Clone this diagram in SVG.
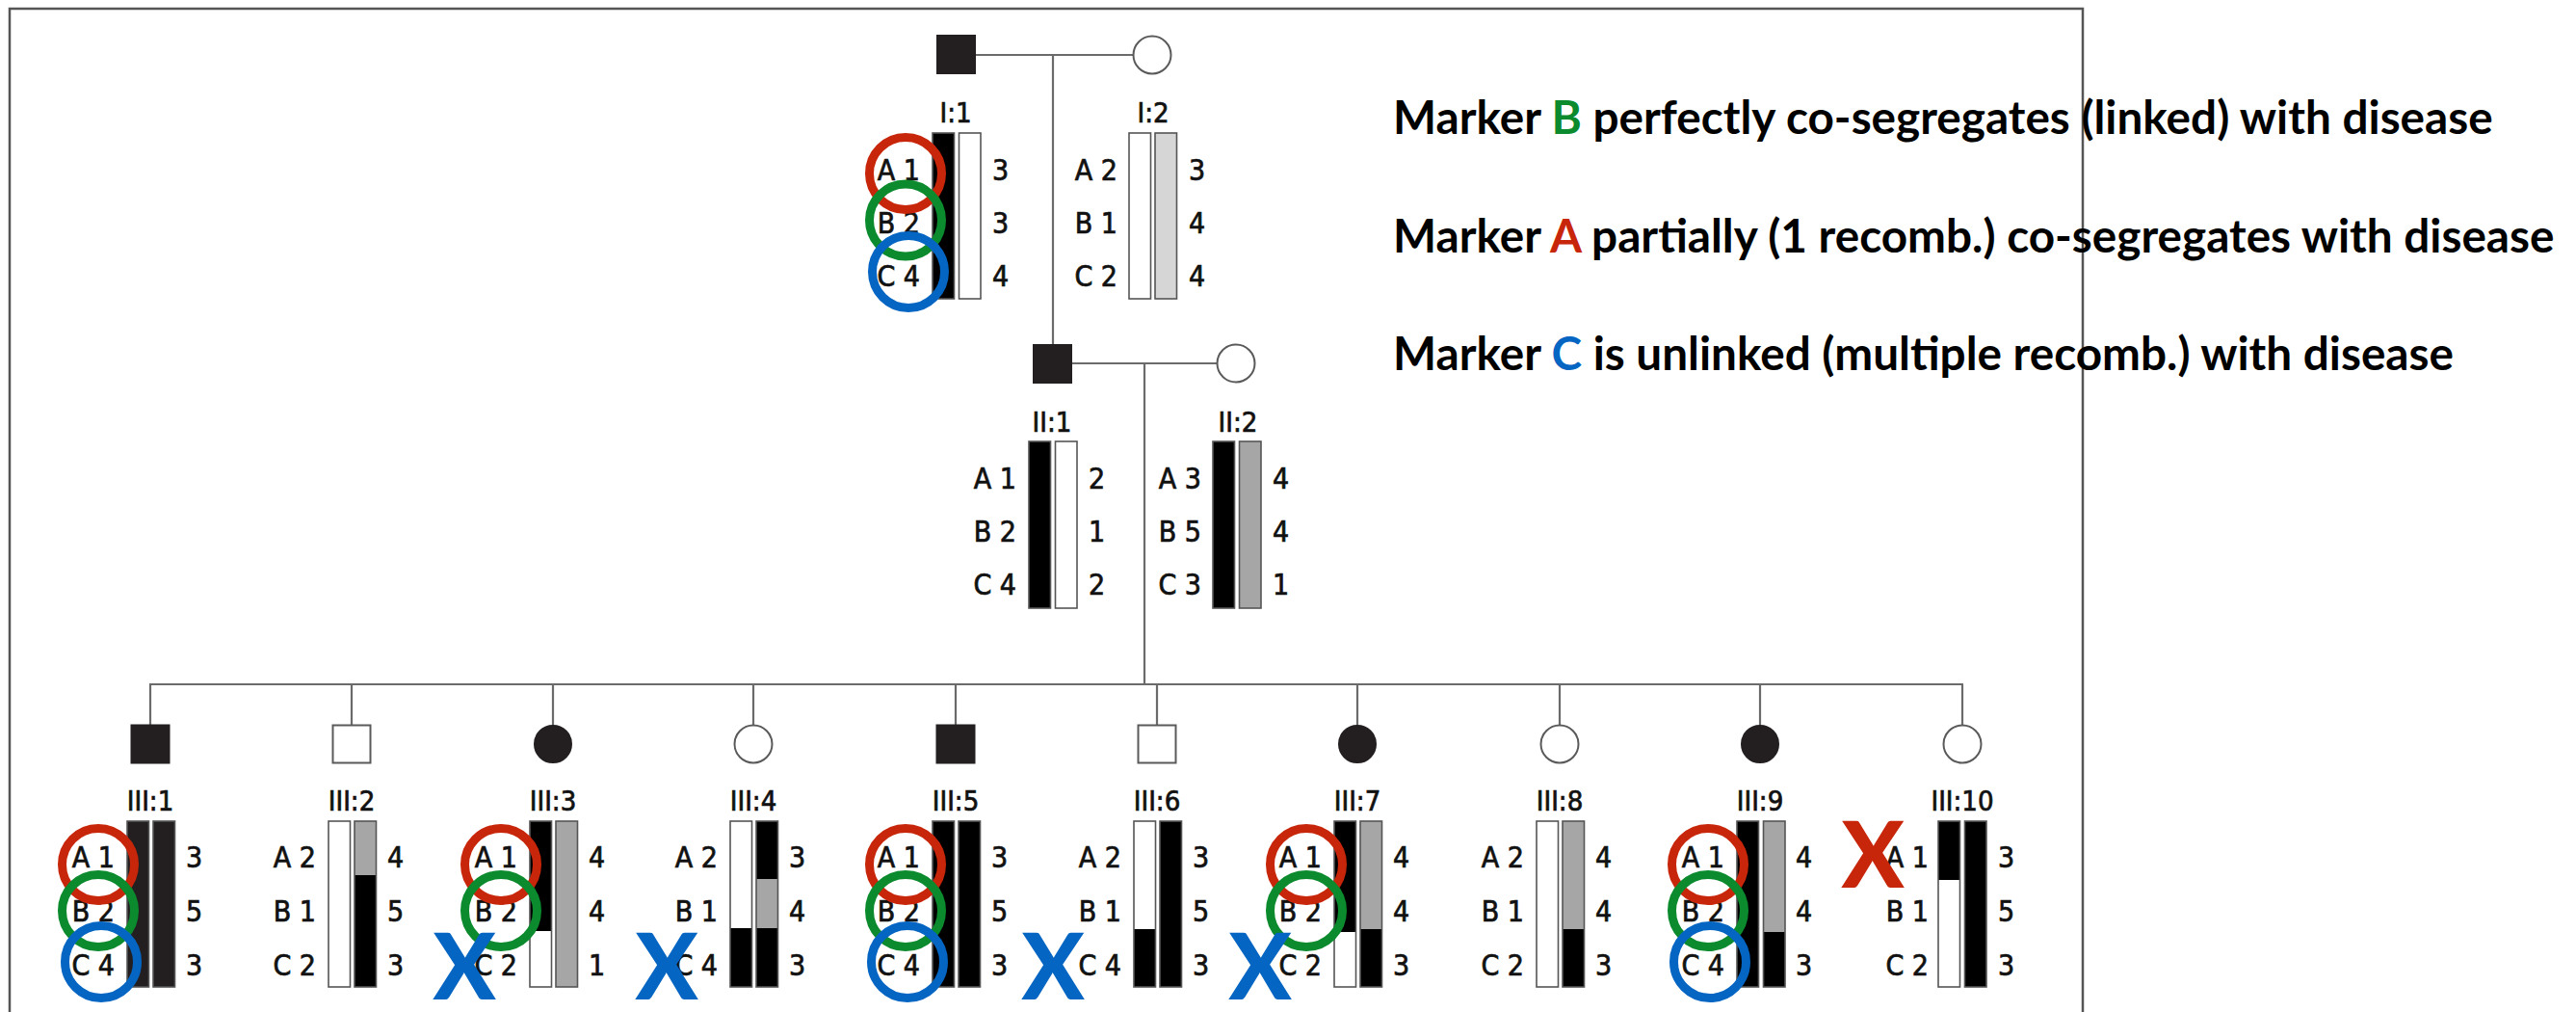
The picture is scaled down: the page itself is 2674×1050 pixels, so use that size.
<svg xmlns="http://www.w3.org/2000/svg" width="2674" height="1050" viewBox="0 0 2674 1050">
<style>
.ln{stroke:#6b6b6b;stroke-width:2.2;fill:none}
.frame{stroke:#555;stroke-width:2.5;fill:none}
.aff{fill:#231f20;stroke:#231f20;stroke-width:2}
.un{fill:#fff;stroke:#5a5a5a;stroke-width:2}
.bk{fill:#000}
.dk{fill:#231f20}
.wt{fill:#fff}
.gy{fill:#a6a6a6}
.lg{fill:#d6d6d6}
.ol{fill:none;stroke:#555;stroke-width:1.6}
.lab{font-family:"Liberation Sans Narrow","DejaVu Sans Condensed","Liberation Sans",sans-serif;font-size:30px;fill:#111;stroke:#111;stroke-width:0.7}
.l{text-anchor:end}
.gid{text-anchor:middle;font-size:29px}
.ring{fill:none;stroke-width:9}
.r{stroke:#c8260a}
.g{stroke:#0c8a2e}
.b{stroke:#0565c2}
.x{font-family:Lato,"Liberation Sans",sans-serif;font-weight:900;font-size:96px;text-anchor:middle}
.xr{fill:#c8260a}
.xb{fill:#0565c2}
.note{font-family:Lato,"Liberation Sans",sans-serif;font-weight:bold;font-size:47.7px;fill:#000}
</style>
<rect width="2674" height="1050" fill="#fff"/>
<path class="frame" d="M10,1050 V9 H2162 V1050"/>

<g id="connectors">
<line class="ln" x1="1012" y1="57" x2="1176" y2="57"/>
<line class="ln" x1="1093" y1="57" x2="1093" y2="358"/>
<line class="ln" x1="1112" y1="377" x2="1264" y2="377"/>
<line class="ln" x1="1188" y1="377" x2="1188" y2="710"/>
<line class="ln" x1="155" y1="710" x2="2038" y2="710"/>
<line class="ln" x1="156" y1="710" x2="156" y2="752"/>
<line class="ln" x1="365" y1="710" x2="365" y2="752"/>
<line class="ln" x1="574" y1="710" x2="574" y2="752"/>
<line class="ln" x1="782" y1="710" x2="782" y2="752"/>
<line class="ln" x1="992" y1="710" x2="992" y2="752"/>
<line class="ln" x1="1201" y1="710" x2="1201" y2="752"/>
<line class="ln" x1="1409" y1="710" x2="1409" y2="752"/>
<line class="ln" x1="1619" y1="710" x2="1619" y2="752"/>
<line class="ln" x1="1827" y1="710" x2="1827" y2="752"/>
<line class="ln" x1="2037" y1="710" x2="2037" y2="752"/>
</g>

<g id="I1">
<rect class="aff" x="973" y="37" width="39" height="39"/>
<text class="lab gid" x="992" y="127">I:1</text>
<rect class="bk" x="968" y="138" width="22.5" height="172"/><rect class="ol" x="968" y="138" width="22.5" height="172"/>
<rect class="wt" x="995.5" y="138" width="22.5" height="172"/><rect class="ol" x="995.5" y="138" width="22.5" height="172"/>
<text class="lab l" x="955" y="187">A 1</text><text class="lab l" x="955" y="242">B 2</text><text class="lab l" x="955" y="297">C 4</text>
<text class="lab" x="1030" y="187">3</text><text class="lab" x="1030" y="242">3</text><text class="lab" x="1030" y="297">4</text>
<circle class="ring r" cx="940" cy="180" r="37.5"/>
<circle class="ring g" cx="940" cy="228.5" r="37.5"/>
<circle class="ring b" cx="943" cy="282" r="37.5"/>
</g>

<g id="I2">
<circle class="un" cx="1196" cy="57" r="19.5"/>
<text class="lab gid" x="1197" y="127">I:2</text>
<rect class="wt" x="1172" y="138" width="22.5" height="172"/><rect class="ol" x="1172" y="138" width="22.5" height="172"/>
<rect class="lg" x="1199" y="138" width="22.5" height="172"/><rect class="ol" x="1199" y="138" width="22.5" height="172"/>
<text class="lab l" x="1160" y="187">A 2</text><text class="lab l" x="1160" y="242">B 1</text><text class="lab l" x="1160" y="297">C 2</text>
<text class="lab" x="1234" y="187">3</text><text class="lab" x="1234" y="242">4</text><text class="lab" x="1234" y="297">4</text>
</g>

<g id="II1">
<rect class="aff" x="1073" y="358" width="39" height="39"/>
<text class="lab gid" x="1092" y="448">II:1</text>
<rect class="bk" x="1068" y="458" width="22.5" height="173"/><rect class="ol" x="1068" y="458" width="22.5" height="173"/>
<rect class="wt" x="1095.5" y="458" width="22.5" height="173"/><rect class="ol" x="1095.5" y="458" width="22.5" height="173"/>
<text class="lab l" x="1055" y="507">A 1</text><text class="lab l" x="1055" y="562">B 2</text><text class="lab l" x="1055" y="617">C 4</text>
<text class="lab" x="1130" y="507">2</text><text class="lab" x="1130" y="562">1</text><text class="lab" x="1130" y="617">2</text>
</g>

<g id="II2">
<circle class="un" cx="1283" cy="377" r="19.5"/>
<text class="lab gid" x="1285" y="448">II:2</text>
<rect class="bk" x="1259" y="458" width="22.5" height="173"/><rect class="ol" x="1259" y="458" width="22.5" height="173"/>
<rect class="gy" x="1286.5" y="458" width="22.5" height="173"/><rect class="ol" x="1286.5" y="458" width="22.5" height="173"/>
<text class="lab l" x="1247" y="507">A 3</text><text class="lab l" x="1247" y="562">B 5</text><text class="lab l" x="1247" y="617">C 3</text>
<text class="lab" x="1321" y="507">4</text><text class="lab" x="1321" y="562">4</text><text class="lab" x="1321" y="617">1</text>
</g>

<g id="III1">
<rect class="aff" x="136.5" y="752.5" width="39" height="39"/>
<text class="lab gid" x="156" y="841">III:1</text>
<rect class="dk" x="132" y="852" width="22.5" height="172"/><rect class="ol" x="132" y="852" width="22.5" height="172"/>
<rect class="dk" x="159" y="852" width="22.5" height="172"/><rect class="ol" x="159" y="852" width="22.5" height="172"/>
<text class="lab l" x="119" y="900">A 1</text><text class="lab l" x="119" y="956">B 2</text><text class="lab l" x="119" y="1012">C 4</text>
<text class="lab" x="193" y="900">3</text><text class="lab" x="193" y="956">5</text><text class="lab" x="193" y="1012">3</text>
<circle class="ring r" cx="102" cy="897" r="37.5"/>
<circle class="ring g" cx="102" cy="945" r="37.5"/>
<circle class="ring b" cx="105" cy="998" r="37.5"/>
</g>

<g id="III2">
<rect class="un" x="345.5" y="752.5" width="39" height="39"/>
<text class="lab gid" x="365" y="841">III:2</text>
<rect class="wt" x="341" y="852" width="22.5" height="172"/><rect class="ol" x="341" y="852" width="22.5" height="172"/>
<rect class="gy" x="368" y="852" width="22.5" height="56"/><rect class="bk" x="368" y="908" width="22.5" height="116"/><rect class="ol" x="368" y="852" width="22.5" height="172"/>
<text class="lab l" x="328" y="900">A 2</text><text class="lab l" x="328" y="956">B 1</text><text class="lab l" x="328" y="1012">C 2</text>
<text class="lab" x="402" y="900">4</text><text class="lab" x="402" y="956">5</text><text class="lab" x="402" y="1012">3</text>
</g>

<g id="III3">
<circle class="aff" cx="574" cy="772" r="19"/>
<text class="lab gid" x="574" y="841">III:3</text>
<rect class="bk" x="550" y="852" width="22.5" height="114"/><rect class="wt" x="550" y="966" width="22.5" height="58"/><rect class="ol" x="550" y="852" width="22.5" height="172"/>
<rect class="gy" x="577" y="852" width="22.5" height="172"/><rect class="ol" x="577" y="852" width="22.5" height="172"/>
<text class="lab l" x="537" y="900">A 1</text><text class="lab l" x="537" y="956">B 2</text><text class="lab l" x="537" y="1012">C 2</text>
<text class="lab" x="611" y="900">4</text><text class="lab" x="611" y="956">4</text><text class="lab" x="611" y="1012">1</text>
<circle class="ring r" cx="520" cy="897" r="37.5"/>
<circle class="ring g" cx="520" cy="945" r="37.5"/>
<text class="x xb" x="482" y="1037">X</text>
</g>

<g id="III4">
<circle class="un" cx="782" cy="772" r="19.5"/>
<text class="lab gid" x="782" y="841">III:4</text>
<rect class="wt" x="758" y="852" width="22.5" height="111"/><rect class="bk" x="758" y="963" width="22.5" height="61"/><rect class="ol" x="758" y="852" width="22.5" height="172"/>
<rect class="bk" x="785" y="852" width="22.5" height="60"/><rect class="gy" x="785" y="912" width="22.5" height="51"/><rect class="bk" x="785" y="963" width="22.5" height="61"/><rect class="ol" x="785" y="852" width="22.5" height="172"/>
<text class="lab l" x="745" y="900">A 2</text><text class="lab l" x="745" y="956">B 1</text><text class="lab l" x="745" y="1012">C 4</text>
<text class="lab" x="819" y="900">3</text><text class="lab" x="819" y="956">4</text><text class="lab" x="819" y="1012">3</text>
<text class="x xb" x="692" y="1037">X</text>
</g>

<g id="III5">
<rect class="aff" x="972.5" y="752.5" width="39" height="39"/>
<text class="lab gid" x="992" y="841">III:5</text>
<rect class="bk" x="968" y="852" width="22.5" height="172"/><rect class="ol" x="968" y="852" width="22.5" height="172"/>
<rect class="bk" x="995" y="852" width="22.5" height="172"/><rect class="ol" x="995" y="852" width="22.5" height="172"/>
<text class="lab l" x="955" y="900">A 1</text><text class="lab l" x="955" y="956">B 2</text><text class="lab l" x="955" y="1012">C 4</text>
<text class="lab" x="1029" y="900">3</text><text class="lab" x="1029" y="956">5</text><text class="lab" x="1029" y="1012">3</text>
<circle class="ring r" cx="940" cy="897" r="37.5"/>
<circle class="ring g" cx="940" cy="945" r="37.5"/>
<circle class="ring b" cx="942" cy="998" r="37.5"/>
</g>

<g id="III6">
<rect class="un" x="1181.5" y="752.5" width="39" height="39"/>
<text class="lab gid" x="1201" y="841">III:6</text>
<rect class="wt" x="1177" y="852" width="22.5" height="112"/><rect class="bk" x="1177" y="964" width="22.5" height="60"/><rect class="ol" x="1177" y="852" width="22.5" height="172"/>
<rect class="bk" x="1204" y="852" width="22.5" height="172"/><rect class="ol" x="1204" y="852" width="22.5" height="172"/>
<text class="lab l" x="1164" y="900">A 2</text><text class="lab l" x="1164" y="956">B 1</text><text class="lab l" x="1164" y="1012">C 4</text>
<text class="lab" x="1238" y="900">3</text><text class="lab" x="1238" y="956">5</text><text class="lab" x="1238" y="1012">3</text>
<text class="x xb" x="1093" y="1037">X</text>
</g>

<g id="III7">
<circle class="aff" cx="1409" cy="772" r="19"/>
<text class="lab gid" x="1409" y="841">III:7</text>
<rect class="bk" x="1385" y="852" width="22.5" height="115"/><rect class="wt" x="1385" y="967" width="22.5" height="57"/><rect class="ol" x="1385" y="852" width="22.5" height="172"/>
<rect class="gy" x="1412" y="852" width="22.5" height="112"/><rect class="bk" x="1412" y="964" width="22.5" height="60"/><rect class="ol" x="1412" y="852" width="22.5" height="172"/>
<text class="lab l" x="1372" y="900">A 1</text><text class="lab l" x="1372" y="956">B 2</text><text class="lab l" x="1372" y="1012">C 2</text>
<text class="lab" x="1446" y="900">4</text><text class="lab" x="1446" y="956">4</text><text class="lab" x="1446" y="1012">3</text>
<circle class="ring r" cx="1356" cy="897" r="37.5"/>
<circle class="ring g" cx="1356" cy="945" r="37.5"/>
<text class="x xb" x="1308" y="1037">X</text>
</g>

<g id="III8">
<circle class="un" cx="1619" cy="772" r="19.5"/>
<text class="lab gid" x="1619" y="841">III:8</text>
<rect class="wt" x="1595" y="852" width="22.5" height="172"/><rect class="ol" x="1595" y="852" width="22.5" height="172"/>
<rect class="gy" x="1622" y="852" width="22.5" height="112"/><rect class="bk" x="1622" y="964" width="22.5" height="60"/><rect class="ol" x="1622" y="852" width="22.5" height="172"/>
<text class="lab l" x="1582" y="900">A 2</text><text class="lab l" x="1582" y="956">B 1</text><text class="lab l" x="1582" y="1012">C 2</text>
<text class="lab" x="1656" y="900">4</text><text class="lab" x="1656" y="956">4</text><text class="lab" x="1656" y="1012">3</text>
</g>

<g id="III9">
<circle class="aff" cx="1827" cy="772" r="19"/>
<text class="lab gid" x="1827" y="841">III:9</text>
<rect class="bk" x="1803" y="852" width="22.5" height="172"/><rect class="ol" x="1803" y="852" width="22.5" height="172"/>
<rect class="gy" x="1830.5" y="852" width="22.5" height="115"/><rect class="bk" x="1830.5" y="967" width="22.5" height="57"/><rect class="ol" x="1830.5" y="852" width="22.5" height="172"/>
<text class="lab l" x="1790" y="900">A 1</text><text class="lab l" x="1790" y="956">B 2</text><text class="lab l" x="1790" y="1012">C 4</text>
<text class="lab" x="1864" y="900">4</text><text class="lab" x="1864" y="956">4</text><text class="lab" x="1864" y="1012">3</text>
<circle class="ring r" cx="1773" cy="897" r="37.5"/>
<circle class="ring g" cx="1773" cy="945" r="37.5"/>
<circle class="ring b" cx="1775" cy="998" r="37.5"/>
</g>

<g id="III10">
<circle class="un" cx="2037" cy="772" r="19.5"/>
<text class="lab gid" x="2037" y="841">III:10</text>
<rect class="bk" x="2012" y="852" width="22.5" height="61"/><rect class="wt" x="2012" y="913" width="22.5" height="111"/><rect class="ol" x="2012" y="852" width="22.5" height="172"/>
<rect class="bk" x="2039.5" y="852" width="22.5" height="172"/><rect class="ol" x="2039.5" y="852" width="22.5" height="172"/>
<text class="lab l" x="2002" y="900">A 1</text><text class="lab l" x="2002" y="956">B 1</text><text class="lab l" x="2002" y="1012">C 2</text>
<text class="lab" x="2074" y="900">3</text><text class="lab" x="2074" y="956">5</text><text class="lab" x="2074" y="1012">3</text>
<text class="x xr" x="1944" y="921">X</text>
</g>

<g id="notes">
<text class="note" x="1446" y="139">Marker <tspan fill="#0c8a2e">B</tspan> perfectly co-segregates (linked) with disease</text>
<text class="note" x="1446" y="262">Marker <tspan fill="#c8260a">A</tspan> partially (1 recomb.) co-segregates with disease</text>
<text class="note" x="1446" y="384">Marker <tspan fill="#0565c2">C</tspan> is unlinked (multiple recomb.) with disease</text>
</g>
</svg>
